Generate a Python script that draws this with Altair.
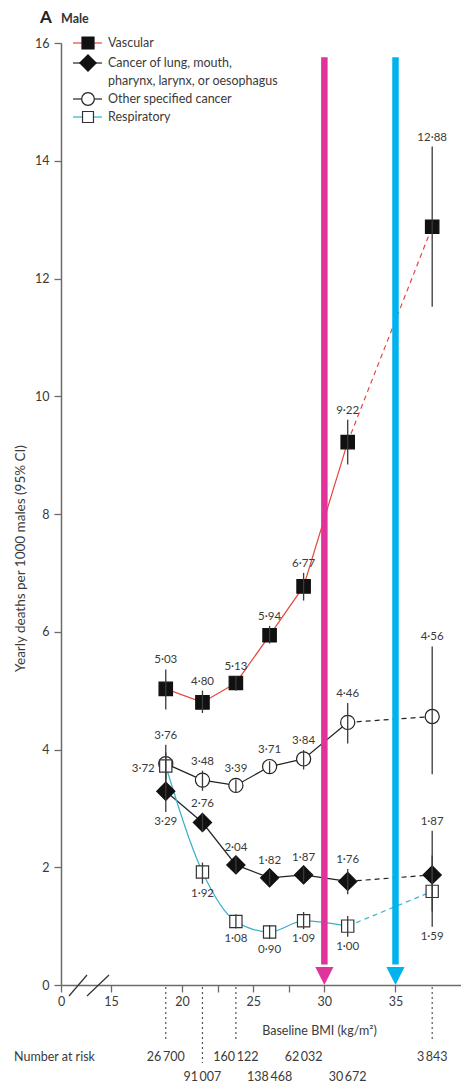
import altair as alt
import pandas as pd

# Mean baseline BMI of each group (kg/m^2)
bmi = [18.85, 21.43, 23.78, 26.15, 28.54, 31.64, 37.58]

# Yearly deaths per 1000 males, with 95% CI
vascular = [5.03, 4.80, 5.13, 5.94, 6.77, 9.22, 12.88]
vascular_lo = [4.68, 4.62, 5.00, 5.80, 6.53, 8.84, 11.52]
vascular_hi = [5.36, 5.00, 5.24, 6.10, 7.00, 9.60, 14.24]

lung = [3.29, 2.76, 2.04, 1.82, 1.87, 1.76, 1.87]
lung_lo = [2.94, 2.60, 1.90, 1.70, 1.75, 1.54, 1.25]
lung_hi = [3.62, 2.92, 2.18, 1.95, 2.00, 1.97, 2.62]

other = [3.76, 3.48, 3.39, 3.71, 3.84, 4.46, 4.56]
other_lo = [3.45, 3.30, 3.26, 3.60, 3.66, 4.10, 3.58]
other_hi = [4.08, 3.64, 3.49, 3.80, 3.99, 4.79, 5.75]

resp = [3.72, 1.92, 1.08, 0.90, 1.09, 1.00, 1.59]
resp_lo = [3.50, 1.72, 0.96, 0.78, 0.95, 0.82, 0.99]
resp_hi = [3.95, 2.08, 1.20, 1.02, 1.24, 1.17, 2.20]

at_risk = [26700, 91007, 160122, 138468, 62032, 30672, 3843]

series_names = [
    "Vascular",
    "Cancer of lung, mouth, pharynx, larynx, or oesophagus",
    "Other specified cancer",
    "Respiratory",
]

# where each value label sits relative to its point
label_place = {
    "Vascular": ["above"] * 7,
    series_names[1]: ["below"] + ["above"] * 6,
    "Other specified cancer": ["above"] * 7,
    "Respiratory": ["left"] + ["below"] * 6,
}

FONT = "Lato"
TEXT = "#3a3a3a"
AXIS = "#6b6b6b"
RED = "#e5473b"
CYAN = "#3aaecb"
MAGENTA = "#e0339c"
SKY = "#00b3ef"

# broken x axis: the left end of the axis stands for 0
X0, X1 = 11.485, 39.605
xscale = alt.Scale(domain=[X0, X1], nice=False, zero=False)
yscale = alt.Scale(domain=[0, 16], nice=False)

marker_r = {"Vascular": 0.12, series_names[1]: 0.10,
            "Other specified cancer": 0.13, "Respiratory": 0.13}


def fmt(v):
    return f"{v:.2f}".replace(".", "\u00b7")


def thin(n):
    return f"{n:,}".replace(",", "\u2009")


rows = []
for name, val, lo, hi in [
    (series_names[0], vascular, vascular_lo, vascular_hi),
    (series_names[1], lung, lung_lo, lung_hi),
    (series_names[2], other, other_lo, other_hi),
    (series_names[3], resp, resp_lo, resp_hi),
]:
    for i in range(len(bmi)):
        place = label_place[name][i]
        r = marker_r[name]
        if place == "above":
            anchor = max(hi[i], val[i] + r)
        elif place == "below":
            anchor = min(lo[i], val[i] - r)
        else:
            anchor = val[i] - 0.05
        rows.append(dict(series=name, idx=i, bmi=bmi[i], value=val[i],
                         lo=lo[i], hi=hi[i], label=fmt(val[i]),
                         place=place, anchor=anchor))
df = pd.DataFrame(rows)

x_axis = alt.Axis(
    values=[X0, 15, 20, 22.5, 25, 27.5, 30, 35],
    labelExpr="datum.value < 12 ? '0' : (datum.value % 5 != 0 ? '' : datum.label)",
    labelFlush=False, labelOverlap=False, grid=False,
    tickSize=7, labelPadding=3, labelFontSize=12.5, labelColor=TEXT,
    labelFont=FONT, domainColor=AXIS, tickColor=AXIS, domainWidth=1.5,
    tickWidth=1.3, title="Baseline BMI (kg/m\u00b2)", titleFont=FONT,
    titleFontSize=12.5, titleFontWeight="normal", titleColor=TEXT,
    titleX=258, titleY=45, titleBaseline="middle", titleAlign="center",
)
y_axis = alt.Axis(
    values=list(range(0, 17, 2)), grid=False, tickSize=7, labelPadding=5,
    labelFontSize=12.5, labelColor=TEXT, labelFont=FONT, domainColor=AXIS,
    tickColor=AXIS, domainWidth=1.5, tickWidth=1.3,
    title="Yearly deaths per 1000 males (95% CI)", titleFont=FONT,
    titleFontSize=13.5, titleFontWeight="normal", titleColor=TEXT,
    titleX=-41, titleY=515, titleAngle=-90, titleAlign="center",
    titleBaseline="middle",
)

# every layer shares the same axis definitions so they merge into one
X = alt.X("bmi:Q", scale=xscale, axis=x_axis)


def Y(field):
    return alt.Y(field, scale=yscale, axis=y_axis)


layers = []

line_style = {
    series_names[0]: dict(color=RED, interpolate="linear"),
    series_names[1]: dict(color="#222222", interpolate="linear"),
    series_names[2]: dict(color="#222222", interpolate="linear"),
    series_names[3]: dict(color=CYAN, interpolate="monotone"),
}

for name in series_names:
    sub = df[df.series == name]
    st = line_style[name]
    solid = sub[sub.idx <= 5]
    dashed = sub[sub.idx >= 5]
    layers.append(
        alt.Chart(solid).mark_line(color=st["color"], strokeWidth=1.2,
                                   interpolate=st["interpolate"]).encode(
            x=X, y=Y("value:Q"), order="idx:Q")
    )
    layers.append(
        alt.Chart(dashed).mark_line(color=st["color"], strokeWidth=1.2,
                                    strokeDash=[5, 4]).encode(
            x=X, y=Y("value:Q"), order="idx:Q")
    )

marker_style = {
    series_names[0]: dict(shape="square", fill="#111111", stroke="#111111", size=180),
    series_names[1]: dict(shape="diamond", fill="#111111", stroke="#111111", size=330),
    series_names[2]: dict(shape="circle", fill="white", stroke="#222222", size=200),
    series_names[3]: dict(shape="square", fill="white", stroke="#333333", size=150),
}

for name in series_names:
    sub = df[df.series == name]
    ms = marker_style[name]
    layers.append(
        alt.Chart(sub).mark_point(shape=ms["shape"], filled=True, fill=ms["fill"],
                                  stroke=ms["stroke"], strokeWidth=1.2,
                                  size=ms["size"], opacity=1).encode(
            x=X, y=Y("value:Q"))
    )

# 95% CI bars
layers.append(
    alt.Chart(df).mark_rule(color="#3a3a3a", strokeWidth=1.3).encode(
        x=X, y=Y("lo:Q"), y2="hi:Q")
)

# value labels
text_kw = dict(font=FONT, fontSize=11.5, color=TEXT)
layers.append(
    alt.Chart(df[df.place == "above"]).mark_text(baseline="middle", dy=-9, **text_kw).encode(
        x=X, y=Y("anchor:Q"), text="label:N")
)
layers.append(
    alt.Chart(df[df.place == "below"]).mark_text(baseline="middle", dy=10, **text_kw).encode(
        x=X, y=Y("anchor:Q"), text="label:N")
)
layers.append(
    alt.Chart(df[df.place == "left"]).mark_text(baseline="middle", align="right", dx=-11,
                                                **text_kw).encode(
        x=X, y=Y("anchor:Q"), text="label:N")
)

# BMI 30 and 35 reference arrows
arrow_bmi = [30, 35]
arrow_colors = [MAGENTA, SKY]
arrows = pd.DataFrame(dict(bmi=arrow_bmi, top=[15.76, 15.76], bottom=[0.35, 0.35],
                           base=[0, 0]))
for i, col in enumerate(arrow_colors):
    a = arrows.iloc[[i]]
    layers.append(
        alt.Chart(a).mark_rule(color=col, strokeWidth=6.5).encode(
            x=X, y=Y("top:Q"), y2="bottom:Q")
    )
    layers.append(
        alt.Chart(a).mark_point(shape="M-1,-1L1,-1L0,1Z", filled=True, fill=col,
                                stroke=col, strokeWidth=0, size=330, opacity=1,
                                yOffset=-9).encode(
            x=X, y=Y("base:Q"))
    )

# number at risk row, staggered on two lines
risk = pd.DataFrame(dict(bmi=bmi, n=[thin(v) for v in at_risk], idx=range(len(bmi))))
risk_kw = dict(font=FONT, fontSize=12.5, color=TEXT, baseline="middle")
layers.append(
    alt.Chart(risk[risk.idx % 2 == 0]).mark_text(**risk_kw).encode(
        x=X, y=alt.value(1014), text="n:N")
)
layers.append(
    alt.Chart(risk[risk.idx % 2 == 1]).mark_text(**risk_kw).encode(
        x=X, y=alt.value(1034), text="n:N")
)
layers.append(
    alt.Chart(pd.DataFrame(dict(t=["Number at risk"]))).mark_text(
        align="left", **risk_kw).encode(x=alt.value(-47), y=alt.value(1014), text="t:N")
)

# dotted guides from the axis down to the risk counts
guides = risk[risk.idx.isin([0, 2, 6])]
layers.append(
    alt.Chart(guides).mark_rule(color="#555555", strokeWidth=1.2, strokeDash=[2, 3]).encode(
        x=X, y=alt.value(944), y2=alt.value(999))
)
layers.append(
    alt.Chart(risk[risk.idx == 1]).mark_rule(color="#555555", strokeWidth=1.2,
                                             strokeDash=[2, 3]).encode(
        x=X, y=alt.value(944), y2=alt.value(1020))
)

# axis break marks
for x_a, x_b in [(8, 26), (26, 48)]:
    layers.append(
        alt.Chart(pd.DataFrame(dict(k=[0]))).mark_rule(color="#333333", strokeWidth=1.2).encode(
            x=alt.value(x_a), x2=alt.value(x_b), y=alt.value(953), y2=alt.value(932))
    )

# legend
legend_rows = [
    (series_names[0], 0, RED, ["Vascular"]),
    (series_names[1], 20, "#222222", ["Cancer of lung, mouth,",
                                      "pharynx, larynx, or oesophagus"]),
    (series_names[2], 56, "#222222", ["Other specified cancer"]),
    (series_names[3], 74, CYAN, ["Respiratory"]),
]
one = pd.DataFrame(dict(k=[0]))
for name, yy, col, lines in legend_rows:
    ms = marker_style[name]
    layers.append(
        alt.Chart(one).mark_rule(color=col, strokeWidth=1.2).encode(
            x=alt.value(12), x2=alt.value(41), y=alt.value(yy))
    )
    layers.append(
        alt.Chart(one).mark_point(shape=ms["shape"], filled=True, fill=ms["fill"],
                                  stroke=ms["stroke"], strokeWidth=1.2,
                                  size=ms["size"] * 0.8, opacity=1).encode(
            x=alt.value(27), y=alt.value(yy))
    )
    for j, txt in enumerate(lines):
        layers.append(
            alt.Chart(pd.DataFrame(dict(t=[txt]))).mark_text(
                align="left", baseline="middle", font=FONT, fontSize=12.5,
                color=TEXT).encode(x=alt.value(47), y=alt.value(yy + 18 * j), text="t:N")
        )

# panel heading
layers.append(
    alt.Chart(pd.DataFrame(dict(t=["A"]))).mark_text(
        align="center", baseline="middle", font=FONT, fontSize=17, fontWeight="bold",
        color="#222222").encode(x=alt.value(-15), y=alt.value(-25), text="t:N")
)
layers.append(
    alt.Chart(pd.DataFrame(dict(t=["Male"]))).mark_text(
        align="left", baseline="middle", font=FONT, fontSize=12.5, fontWeight="bold",
        color="#333333").encode(x=alt.value(0), y=alt.value(-24), text="t:N")
)

chart = alt.layer(*layers).properties(
    width=400, height=942,
    autosize=alt.AutoSizeParams(type="none"),
    padding={"left": 61, "top": 43, "right": 0, "bottom": 106},
    background="white",
).configure_view(stroke=None)

chart.save("out.html", embed_options={"renderer": "svg", "actions": False})
